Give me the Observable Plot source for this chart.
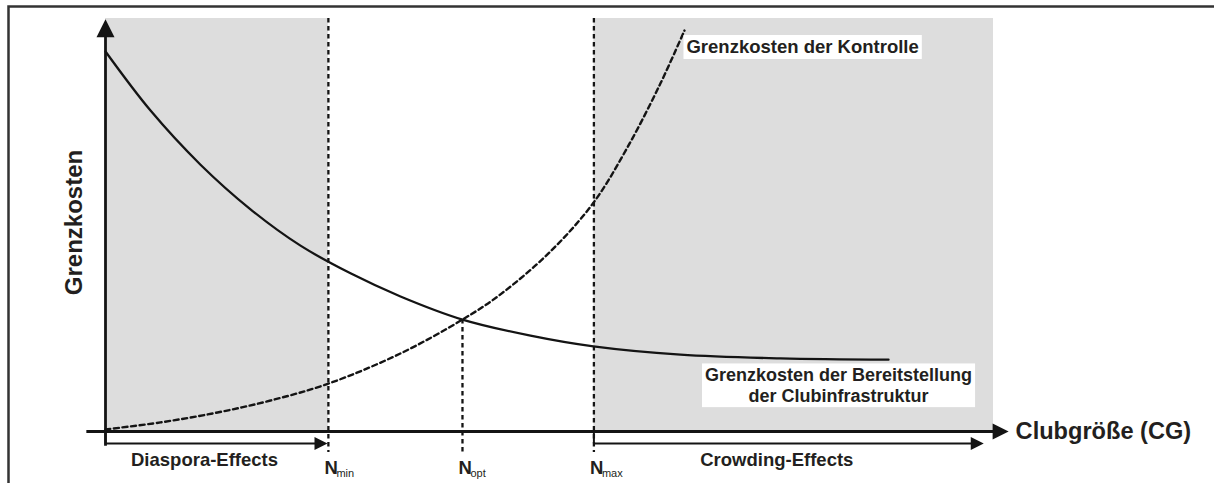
<!DOCTYPE html>
<html>
<head>
<meta charset="utf-8">
<script src="https://cdn.jsdelivr.net/npm/d3@7"></script>
<script src="https://cdn.jsdelivr.net/npm/@observablehq/plot@0.6"></script>
<style>
  html, body { margin: 0; padding: 0; background: #fff; overflow: hidden; }
  #chart svg { display: block; }
</style>
</head>
<body>
<div id="chart"></div>
<script>
// ---- Data (Clubgröße on x, 0..100; Grenzkosten on y, 0..100) ----
// Grenzkosten der Bereitstellung der Clubinfrastruktur (solid, falling)
const infraX = [0, 5.07, 10.7, 16.33, 21.96, 27.59, 33.22, 40.2, 47.86, 54.95, 64.75, 76.01, 88.18];
const infraY = [92.0, 77.7, 64.6, 53.8, 45.0, 38.3, 32.7, 27.1, 23.2, 20.6, 18.6, 17.7, 17.4];
// Grenzkosten der Kontrolle (dashed, rising)
const kontrolleX = [0, 6.19, 12.61, 18.58, 25.11, 33.22, 40.2, 44.48, 50.11, 54.95, 58.78, 62.5, 65.2];
const kontrolleY = [0.5, 2.2, 4.6, 7.5, 11.6, 18.9, 27.1, 33.2, 43.6, 55.4, 68.8, 84.3, 97.1];
// Critical club sizes
const nNames = ["min", "opt", "max"];
const nValues = [25.1, 40.2, 55];
// Effect zones
const zoneLabels = ["Diaspora-Effects", "Crowding-Effects"];
const zoneFrom = [0, 55];
const zoneTo = [25.1, 100];
const zoneArrowTip = [25, 98.9];
// Texts
const yTitle = "Grenzkosten";
const xTitle = "Clubgröße (CG)";
const kontrolleLabel = "Grenzkosten der Kontrolle";
const infraLabel = "Grenzkosten der Bereitstellung\nder Clubinfrastruktur";

// ---- Build tables ----
const infra = infraX.map((x, i) => ({x, y: infraY[i]}));
const kontrolle = kontrolleX.map((x, i) => ({x, y: kontrolleY[i]}));
const ns = nNames.map((name, i) => ({name, x: nValues[i]}));
const zones = zoneLabels.map((label, i) => ({label, from: zoneFrom[i], to: zoneTo[i], tip: zoneArrowTip[i]}));
const optY = infraY[infraX.indexOf(nValues[1])];

// axis decoration extents (in data units)
const AX = {xMin: -2.1, xTip: 101.7, yMin: -3.6, yTip: 99.8, effect: -2.9, nBottom: -5.1, nText: -10.4, zoneText: -8.4};

const ink = "#141414";
const textInk = "#231f20";

const arrowUp = {draw(ctx, size) { const r = Math.sqrt(size / Math.PI); ctx.moveTo(0, 0); ctx.lineTo(r, 2 * r); ctx.lineTo(-r, 2 * r); ctx.closePath(); }};
const arrowRight = {draw(ctx, size) { const r = Math.sqrt(size / Math.PI); ctx.moveTo(0, 0); ctx.lineTo(-2 * r, -r); ctx.lineTo(-2 * r, r); ctx.closePath(); }};

const effectPath = zones.flatMap(z => [
  {z: z.label, x: z.from, y: 0},
  {z: z.label, x: z.from, y: AX.effect},
  {z: z.label, x: z.tip - 1, y: AX.effect}
]);

const bold = {fontWeight: "bold", fill: textInk};

const plot = Plot.plot({
  width: 1214,
  height: 483,
  margin: 0,
  style: {fontFamily: "'Liberation Sans', Arial, Helvetica, sans-serif", background: "white"},
  x: {domain: [0, 100], range: [105, 993], axis: null},
  y: {domain: [0, 100], range: [431, 18], axis: null},
  marks: [
    Plot.frame({stroke: "#333", strokeWidth: 2.5, insetLeft: 8, insetTop: 6, insetRight: -20, insetBottom: -20}),
    Plot.rect(zones, {x1: "from", x2: "to", y1: 0, y2: 100, fill: "#dddddd"}),
    Plot.ruleX(ns, {x: "x", y1: d => d.name === "opt" ? optY : 100, y2: AX.nBottom, stroke: ink, strokeWidth: 2.3, strokeDasharray: "4.5,3.5"}),
    Plot.line(kontrolle, {x: "x", y: "y", curve: "catmull-rom", stroke: ink, strokeWidth: 2.4, strokeDasharray: "5,3.6"}),
    Plot.line(infra, {x: "x", y: "y", curve: "catmull-rom", stroke: ink, strokeWidth: 2.3}),
    // axes
    Plot.ruleY([0], {x1: AX.xMin, x2: AX.xTip - 1, stroke: ink, strokeWidth: 2.8}),
    Plot.ruleX([0], {y1: AX.yMin, y2: AX.yTip - 2, stroke: ink, strokeWidth: 2.8}),
    Plot.dot([{x: 0, y: AX.yTip}], {x: "x", y: "y", symbol: arrowUp, r: 9, fill: ink, stroke: "none"}),
    Plot.dot([{x: AX.xTip, y: 0}], {x: "x", y: "y", symbol: arrowRight, r: 8, fill: ink, stroke: "none"}),
    // effect arrows
    Plot.line(effectPath, {x: "x", y: "y", z: "z", stroke: ink, strokeWidth: 2}),
    Plot.dot(zones, {x: "tip", y: AX.effect, symbol: arrowRight, r: 6.5, fill: ink, stroke: "none"}),
    Plot.text(zones, {x: d => (d.from + d.tip) / 2, y: AX.zoneText, text: "label", dx: -12, fontSize: 18.5, lineAnchor: "bottom", ...bold}),
    // N labels
    Plot.text(ns, {x: "x", y: AX.nText, text: () => "N", dx: -4, textAnchor: "start", fontSize: 18.5, lineAnchor: "bottom", ...bold}),
    Plot.text(ns, {x: "x", y: AX.nText, text: "name", dx: 8, dy: 3, textAnchor: "start", fontSize: 11, lineAnchor: "bottom", fill: textInk}),
    // axis titles
    Plot.text([yTitle], {x: -2.7, y: 50.6, text: d => d, rotate: -90, fontSize: 24, lineAnchor: "bottom", ...bold}),
    Plot.text([xTitle], {x: AX.xTip, y: 0, text: d => d, dx: 7, dy: 7.5, textAnchor: "start", fontSize: 23.6, lineAnchor: "bottom", ...bold}),
    // curve labels
    Plot.text(kontrolle, Plot.selectLast({x: "x", y: "y", text: () => kontrolleLabel, dx: 2, dy: 23, textAnchor: "start", lineAnchor: "bottom", fontSize: 18.5, ...bold})),
    Plot.text(infra, Plot.selectLast({x: "x", y: "y", text: () => infraLabel, dx: -50, dy: 42, textAnchor: "middle", lineAnchor: "bottom", lineHeight: 1.15, fontSize: 18, ...bold}))
  ]
});

document.getElementById("chart").appendChild(plot);

// white boxes behind the curve labels
const svgRect = plot.getBoundingClientRect();
d3.select(plot).selectAll("text")
  .filter(function () { return this.textContent.startsWith("Grenzkosten der"); })
  .each(function () {
    const b = this.getBoundingClientRect();
    const g = this.parentNode;
    const padX = 3, padY = 1.5;
    const rect = document.createElementNS("http://www.w3.org/2000/svg", "rect");
    rect.setAttribute("x", b.left - svgRect.left - padX);
    rect.setAttribute("y", b.top - svgRect.top - padY);
    rect.setAttribute("width", b.width + 2 * padX);
    rect.setAttribute("height", b.height + 2 * padY);
    rect.setAttribute("fill", "white");
    rect.setAttribute("stroke", "none");
    plot.insertBefore(rect, g);
  });
</script>
</body>
</html>
